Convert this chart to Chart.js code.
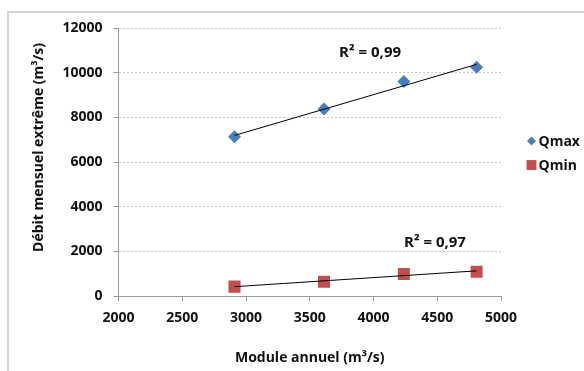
<!DOCTYPE html>
<html>
<head>
<meta charset="utf-8">
<script src="https://cdn.jsdelivr.net/npm/chart.js@4.4.1/dist/chart.umd.min.js"></script>
<style>
  html, body { margin: 0; padding: 0; background: #fff; }
  #wrap { position: relative; width: 584px; height: 371px; overflow: hidden; }
  #frame { position: absolute; left: 7px; top: 11px; width: 620px; height: 400px; border: 2px solid #d4d4d4; box-sizing: border-box; }
  #chart { position: absolute; left: 0; top: 0; }
</style>
</head>
<body>
<div id="wrap">
  <div id="frame"></div>
  <canvas id="chart" width="584" height="371"></canvas>
</div>
<script>
// module annuel (x) and extreme monthly flows
const moduleAnnuel = [2910, 3612, 4238, 4809];
const qmaxValues = [7130, 8370, 9600, 10240];
const qminValues = [420, 640, 985, 1090];
const seriesNames = ['Qmax', 'Qmin'];
const r2Labels = ['R² = 0,99', 'R² = 0,97'];

const xTitle = 'Module annuel (m³/s)';
const yTitle = 'Débit mensuel extrême (m³/s)';

function toPoints(xs, ys) {
    return xs.map((x, i) => ({ x: x, y: ys[i] }));
}

// least squares trend line, drawn between first and last x
function trendLine(xs, ys) {
    const n = xs.length;
    const mx = xs.reduce((a, b) => a + b, 0) / n;
    const my = ys.reduce((a, b) => a + b, 0) / n;
    let sxy = 0, sxx = 0;
    for (let i = 0; i < n; i++) {
        sxy += (xs[i] - mx) * (ys[i] - my);
        sxx += (xs[i] - mx) * (xs[i] - mx);
    }
    const slope = sxy / sxx;
    const x0 = Math.min(...xs), x1 = Math.max(...xs);
    return [{ x: x0, y: my + slope * (x0 - mx) }, { x: x1, y: my + slope * (x1 - mx) }];
}

const FONT = '"Open Sans", "DejaVu Sans", sans-serif';
Chart.defaults.font.family = FONT;
Chart.defaults.font.size = 14;
Chart.defaults.font.weight = 'bold';
Chart.defaults.color = '#111';

const tickFont = { family: FONT, size: 14, weight: 'bold' };

// plain numbers, no thousands separator
const plainTick = function (value) { return String(value); };

// R² labels placed in data units
const r2Plugin = {
    id: 'r2Labels',
    afterDatasetsDraw(chart, args, opts) {
        const ctx = chart.ctx;
        const xs = chart.scales.x, ys = chart.scales.y;
        ctx.save();
        ctx.font = 'bold 15px ' + FONT;
        ctx.fillStyle = '#111';
        ctx.textAlign = 'center';
        ctx.textBaseline = 'middle';
        opts.anchors.forEach((a, i) => {
            ctx.fillText(r2Labels[i], xs.getPixelForValue(a[0]), ys.getPixelForValue(a[1]));
        });
        ctx.restore();
    }
};

// legend at the right, as in the spreadsheet chart
const sideLegend = {
    id: 'sideLegend',
    afterDraw(chart, args, opts) {
        const ctx = chart.ctx;
        ctx.save();
        ctx.font = 'bold 14px ' + FONT;
        ctx.textBaseline = 'middle';
        let y = opts.top;
        chart.data.datasets.filter(d => !d.isTrend).forEach(ds => {
            ctx.fillStyle = ds.backgroundColor;
            Chart.helpers.drawPoint(ctx, {
                pointStyle: ds.pointStyle,
                radius: ds.legendRadius,
                rotation: 0,
                borderWidth: 0
            }, opts.left, y);
            ctx.fillStyle = '#111';
            ctx.fillText(ds.label, opts.left + opts.gap, y + 1);
            y += opts.spacing;
        });
        ctx.restore();
    }
};

const ctx = document.getElementById('chart');
new Chart(ctx, {
    type: 'scatter',
    data: {
        datasets: [
            {
                label: 'trend ' + seriesNames[0],
                isTrend: true,
                data: trendLine(moduleAnnuel, qmaxValues),
                showLine: true,
                borderColor: '#000',
                borderWidth: 1,
                pointRadius: 0,
                order: 0
            },
            {
                label: 'trend ' + seriesNames[1],
                isTrend: true,
                data: trendLine(moduleAnnuel, qminValues),
                showLine: true,
                borderColor: '#000',
                borderWidth: 1,
                pointRadius: 0,
                order: 0
            },
            {
                label: seriesNames[0],
                data: toPoints(moduleAnnuel, qmaxValues),
                pointStyle: 'rectRot',
                pointRadius: 6.5,
                backgroundColor: '#4a7ebb',
                borderColor: '#4a7ebb',
                borderWidth: 0,
                legendRadius: 4.5,
                order: 1
            },
            {
                label: seriesNames[1],
                data: toPoints(moduleAnnuel, qminValues),
                pointStyle: 'rect',
                pointRadius: 8.5,
                backgroundColor: '#c0504d',
                borderColor: '#c0504d',
                borderWidth: 0,
                legendRadius: 7,
                order: 1
            }
        ]
    },
    options: {
        responsive: false,
        animation: false,
        events: [],
        layout: {
            padding: { left: 30.5, top: 28, right: 83, bottom: 4.6 }
        },
        scales: {
            x: {
                type: 'linear',
                min: 2000,
                max: 5000,
                ticks: { stepSize: 500, padding: 9, color: '#111', font: tickFont, callback: plainTick },
                grid: { drawOnChartArea: false, tickLength: 5, tickColor: '#9a9a9a' },
                border: { color: '#9a9a9a', width: 1 },
                title: { display: true, text: xTitle, padding: 0, color: '#111', font: tickFont },
                afterFit: function (scale) { scale.height = 70.4; }
            },
            y: {
                min: 0,
                max: 12000,
                ticks: { stepSize: 2000, padding: 11, color: '#111', font: tickFont, callback: plainTick },
                grid: { color: '#c4c4c4', lineWidth: 1, tickLength: 5, tickColor: '#9a9a9a' },
                border: { color: '#9a9a9a', width: 1, dash: [2, 2] },
                title: { display: true, text: '        ' + yTitle, padding: 0, color: '#111', font: tickFont },
                afterFit: function (scale) { scale.width = 88; }
            }
        },
        plugins: {
            legend: { display: false },
            tooltip: { enabled: false },
            r2Labels: { anchors: [[3973, 10880], [4482, 2373]] },
            sideLegend: { left: 531.5, top: 141, spacing: 24, gap: 7 }
        }
    },
    plugins: [r2Plugin, sideLegend]
});
</script>
</body>
</html>
